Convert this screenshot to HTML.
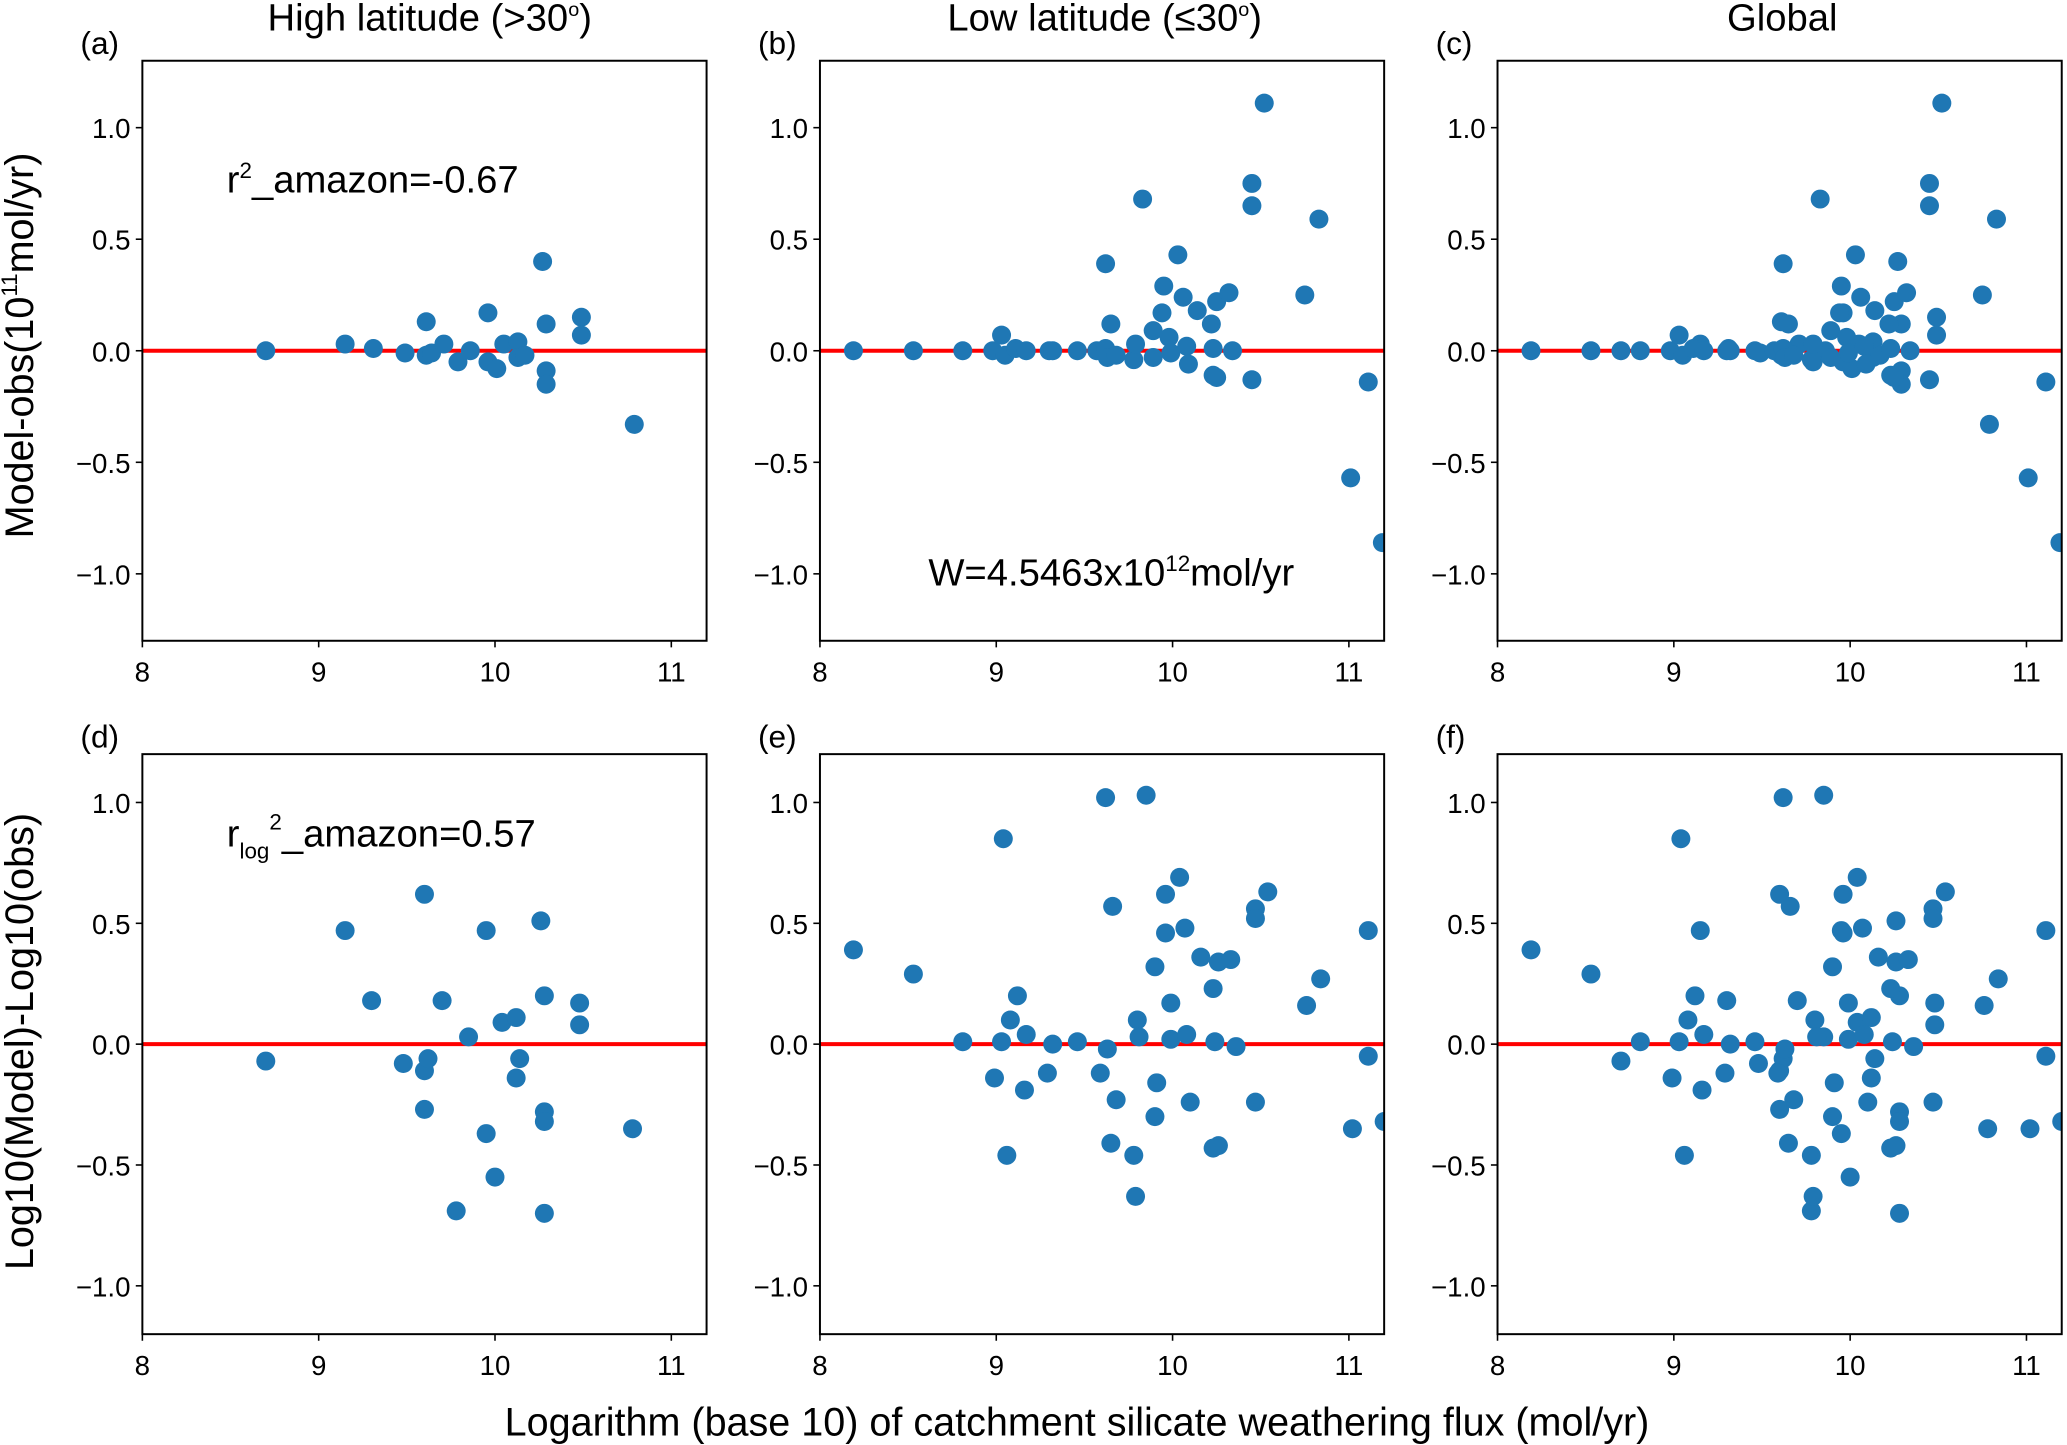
<!DOCTYPE html>
<html><head><meta charset="utf-8"><style>
html,body{margin:0;padding:0;background:#fff}
svg{display:block}
text{font-family:"Liberation Sans",sans-serif;fill:#000}
</style></head><body>
<svg id="fig" width="2067" height="1445" viewBox="0 0 1568 1096" xmlns="http://www.w3.org/2000/svg">
<text x="326" y="23" font-size="29" text-anchor="middle">High latitude (&gt;30<tspan font-size="15" dy="-11">o</tspan><tspan dy="11">)</tspan></text>
<text x="838" y="23" font-size="29" text-anchor="middle">Low latitude (≤30<tspan font-size="15" dy="-11">o</tspan><tspan dy="11">)</tspan></text>
<text x="1352" y="23" font-size="29" text-anchor="middle">Global</text>
<text transform="translate(25,262) rotate(-90)" font-size="30" text-anchor="middle">Model-obs(10<tspan font-size="17" dy="-12">11</tspan><tspan dy="12">mol/yr)</tspan></text>
<text transform="translate(25,790) rotate(-90)" font-size="30" text-anchor="middle">Log10(Model)-Log10(obs)</text>
<text x="817" y="1089" font-size="30" text-anchor="middle">Logarithm (base 10) of catchment silicate weathering flux (mol/yr)</text>
<text x="172" y="146" font-size="29">r<tspan font-size="17" dy="-11">2</tspan><tspan dy="11">_amazon=-0.67</tspan></text>
<text x="172" y="642" font-size="29">r<tspan font-size="17" dy="9">log</tspan><tspan font-size="17" dy="-22">2</tspan><tspan dy="13">_amazon=0.57</tspan></text>
<text x="843" y="444" font-size="29" text-anchor="middle">W=4.5463x10<tspan font-size="17" dy="-11">12</tspan><tspan dy="11">mol/yr</tspan></text>
</svg>
<script>
const highLatX = [8.70,9.15,9.31,9.49,9.61,9.61,9.64,9.71,9.79,9.86,9.96,9.96,10.01,10.05,10.13,10.13,10.17,10.27,10.29,10.29,10.29,10.49,10.49,10.79];
const highLatDiff = [0,0.03,0.01,-0.01,0.13,-0.02,-0.01,0.03,-0.05,0,0.17,-0.05,-0.08,0.03,0.04,-0.03,-0.02,0.40,0.12,-0.09,-0.15,0.15,0.07,-0.33];
const lowLatX = [8.19,8.53,8.81,8.98,9.03,9.05,9.11,9.17,9.30,9.32,9.46,9.57,9.62,9.62,9.63,9.65,9.68,9.78,9.79,9.83,9.89,9.89,9.94,9.95,9.98,9.99,10.03,10.06,10.08,10.09,10.14,10.22,10.23,10.23,10.25,10.25,10.32,10.34,10.45,10.45,10.45,10.52,10.75,10.83,11.01,11.11,11.19];
const lowLatDiff = [0,0,0,0,0.07,-0.02,0.01,0,0,0,0,0,0.39,0.01,-0.03,0.12,-0.02,-0.04,0.03,0.68,-0.03,0.09,0.17,0.29,0.06,-0.01,0.43,0.24,0.02,-0.06,0.18,0.12,0.01,-0.11,0.22,-0.12,0.26,0,0.75,0.65,-0.13,1.11,0.25,0.59,-0.57,-0.14,-0.86];
const highLogX = [8.70,9.15,9.30,9.48,9.60,9.60,9.62,9.60,9.70,9.78,9.85,9.95,9.95,10.0,10.04,10.12,10.14,10.12,10.26,10.28,10.28,10.28,10.28,10.48,10.48,10.78];
const highLogDiff = [-0.07,0.47,0.18,-0.08,0.62,-0.11,-0.06,-0.27,0.18,-0.69,0.03,0.47,-0.37,-0.55,0.09,0.11,-0.06,-0.14,0.51,0.20,-0.28,-0.32,-0.70,0.17,0.08,-0.35];
const lowLogX = [8.19,8.53,8.81,8.99,9.03,9.04,9.06,9.08,9.12,9.16,9.17,9.29,9.32,9.46,9.59,9.62,9.63,9.65,9.66,9.68,9.78,9.79,9.80,9.81,9.85,9.90,9.90,9.91,9.96,9.96,9.99,9.99,10.04,10.07,10.08,10.10,10.16,10.23,10.23,10.24,10.26,10.26,10.33,10.36,10.47,10.47,10.47,10.54,10.76,10.84,11.02,11.11,11.11,11.20];
const lowLogDiff = [0.39,0.29,0.01,-0.14,0.01,0.85,-0.46,0.10,0.20,-0.19,0.04,-0.12,0,0.01,-0.12,1.02,-0.02,-0.41,0.57,-0.23,-0.46,-0.63,0.10,0.03,1.03,-0.30,0.32,-0.16,0.46,0.62,0.17,0.02,0.69,0.48,0.04,-0.24,0.36,0.23,-0.43,0.01,0.34,-0.42,0.35,-0.01,0.56,0.52,-0.24,0.63,0.16,0.27,-0.35,0.47,-0.05,-0.32];
const xTicks = [8,9,10,11];
const yTicks = [-1.0,-0.5,0.0,0.5,1.0];
const yTickLabels = ["\u22121.0","\u22120.5","0.0","0.5","1.0"];

const NS = "http://www.w3.org/2000/svg";
const svg = document.getElementById('fig');
function mk(tag, attrs){const e=document.createElementNS(NS,tag);for(const k in attrs)e.setAttribute(k,attrs[k]);return e;}

const panels = [
 {id:'a', left:108, top:46, ylim:1.3, xs:highLatX, ys:highLatDiff},
 {id:'b', left:622, top:46, ylim:1.3, xs:lowLatX, ys:lowLatDiff},
 {id:'c', left:1136, top:46, ylim:1.3, xs:highLatX.concat(lowLatX), ys:highLatDiff.concat(lowLatDiff)},
 {id:'d', left:108, top:572, ylim:1.2, xs:highLogX, ys:highLogDiff},
 {id:'e', left:622, top:572, ylim:1.2, xs:lowLogX, ys:lowLogDiff},
 {id:'f', left:1136, top:572, ylim:1.2, xs:highLogX.concat(lowLogX), ys:highLogDiff.concat(lowLogDiff)}
];
const W = 428, H = 440, XMIN = 8, XMAX = 11.2;

panels.forEach(p => {
  const sx = v => p.left + (v - XMIN) / (XMAX - XMIN) * W;
  const sy = v => p.top + (p.ylim - v) / (2 * p.ylim) * H;
  const g = mk('g', {});
  
  
  svg.appendChild(g);
  const clip = mk('clipPath', {id:'clip-' + p.id});
  clip.appendChild(mk('rect', {x:p.left, y:p.top, width:W, height:H}));
  g.appendChild(clip);
  const lbl = mk('text', {x:p.left - 47, y:p.top - 5, 'font-size':24});
  lbl.textContent = '(' + p.id + ')';
  
  
  g.appendChild(lbl);
  xTicks.forEach(t => {
    const x = sx(t);
    const tk = mk('line', {x1:x, x2:x, y1:p.top + H, y2:p.top + H + 5, stroke:'#000', 'stroke-width':1.2});
    
    
    g.appendChild(tk);
    const tl = mk('text', {x:x, y:p.top + H + 31, 'font-size':21, 'text-anchor':'middle'});
    tl.textContent = String(t);
    
    
    g.appendChild(tl);
  });
  yTicks.forEach((t, i) => {
    const y = sy(t);
    const tk = mk('line', {x1:p.left - 5, x2:p.left, y1:y, y2:y, stroke:'#000', 'stroke-width':1.2});
    
    
    g.appendChild(tk);
    const tl = mk('text', {x:p.left - 9, y:y + 8, 'font-size':21, 'text-anchor':'end'});
    tl.textContent = yTickLabels[i];
    
    
    g.appendChild(tl);
  });
  const zl = mk('line', {x1:p.left, x2:p.left + W, y1:sy(0), y2:sy(0), stroke:'#ff0000', 'stroke-width':3});
  
  
  g.appendChild(zl);
  const dots = mk('g', {'clip-path':'url(#clip-' + p.id + ')'});
  
  
  g.appendChild(dots);
  p.xs.forEach((xv, i) => {
    const c = mk('circle', {cx:sx(xv), cy:sy(p.ys[i]), r:7.2, fill:'#1f77b4'});
    
    
    dots.appendChild(c);
  });
  const fr = mk('rect', {x:p.left, y:p.top, width:W, height:H, fill:'none', stroke:'#000', 'stroke-width':1.5});
  
  
  g.appendChild(fr);
});
</script>
</body></html>
